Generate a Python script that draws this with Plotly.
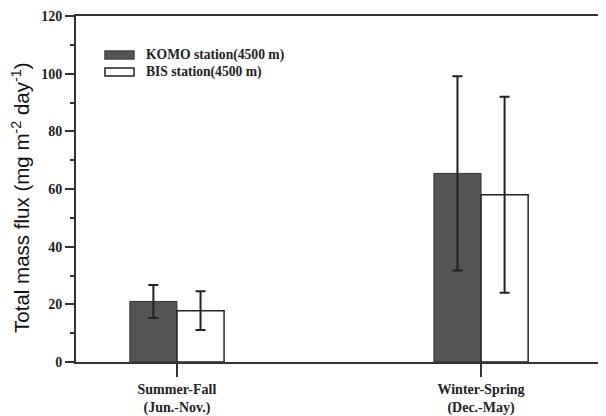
import plotly.graph_objects as go

categories = ["Summer-Fall<br>(Jun.-Nov.)", "Winter-Spring<br>(Dec.-May)"]
cat_pos = [0, 1]
series_names = ["KOMO station(4500 m)", "BIS station(4500 m)"]
komo_vals = [21.0, 65.4]
komo_err = [5.7, 33.7]
bis_vals = [17.8, 58.0]
bis_err = [6.7, 34.0]
y_ticks = [0, 20, 40, 60, 80, 100, 120]
y_title = "Total mass flux (mg m<sup>-2</sup> day<sup>-1</sup>)"

serif = "Liberation Serif"
bw = 0.155
dark = "#555555"
edge = "#222222"

fig = go.Figure()
fig.add_trace(go.Bar(
    x=cat_pos, y=komo_vals, name=series_names[0],
    width=bw, offset=-bw,
    marker=dict(color=dark, line=dict(color="#333333", width=1)),
    error_y=dict(type="data", array=komo_err, visible=True, color=edge, thickness=2, width=5),
))
fig.add_trace(go.Bar(
    x=cat_pos, y=bis_vals, name=series_names[1],
    width=bw, offset=0,
    marker=dict(color="white", line=dict(color=edge, width=1.5)),
    error_y=dict(type="data", array=bis_err, visible=True, color=edge, thickness=2, width=5),
))

# manual legend (wide rectangular keys like the reference)
legend_keys = [
    dict(fill=dark, line="#444444", y0=0.8757, y1=0.8988, ty=0.8873),
    dict(fill="white", line=edge, y0=0.8266, y1=0.8497, ty=0.8382),
]
for name, k in zip(series_names, legend_keys):
    fig.add_shape(type="rect", xref="paper", yref="paper",
                  x0=0.0547, x1=0.1094, y0=k["y0"], y1=k["y1"],
                  fillcolor=k["fill"], line=dict(color=k["line"], width=1.5))
    fig.add_annotation(xref="paper", yref="paper", x=0.128, y=k["ty"],
                       xanchor="left", yanchor="middle", showarrow=False,
                       text="<b>" + name + "</b>",
                       font=dict(family=serif, size=13.6, color="#222222"))

# y-axis title
fig.add_annotation(xref="paper", yref="paper", x=-0.104, y=0.474,
                   xanchor="center", yanchor="middle", showarrow=False,
                   textangle=-90, text=y_title,
                   font=dict(family="Liberation Sans", size=20.5, color="#111111"))

fig.update_layout(
    width=598, height=408,
    margin=dict(l=68, r=0, t=8, b=54),
    plot_bgcolor="white", paper_bgcolor="white",
    showlegend=False,
    barmode="overlay",
)
fig.update_xaxes(
    range=[-0.332, 1.411], tickvals=cat_pos,
    ticktext=["<b>" + c.replace("<br>", "</b><br><b>") + "</b>" for c in categories],
    showline=True, linecolor="#333333", linewidth=2, mirror=True,
    ticks="outside", ticklen=13, tickwidth=2, tickcolor="#333333",
    showgrid=False, zeroline=False,
    tickfont=dict(family=serif, size=14, color="#222222"),
)
fig.update_yaxes(
    range=[0, 120], tickvals=y_ticks,
    ticktext=["<b>%d</b>" % v for v in y_ticks],
    showline=True, linecolor="#333333", linewidth=2, mirror=False,
    ticks="outside", ticklen=9, tickwidth=2, tickcolor="#333333",
    minor=dict(dtick=10, ticks="outside", ticklen=4, tickwidth=1.5, tickcolor="#333333"),
    showgrid=False, zeroline=False,
    tickfont=dict(family=serif, size=14, color="#222222"),
)

fig.write_html("out.html")
